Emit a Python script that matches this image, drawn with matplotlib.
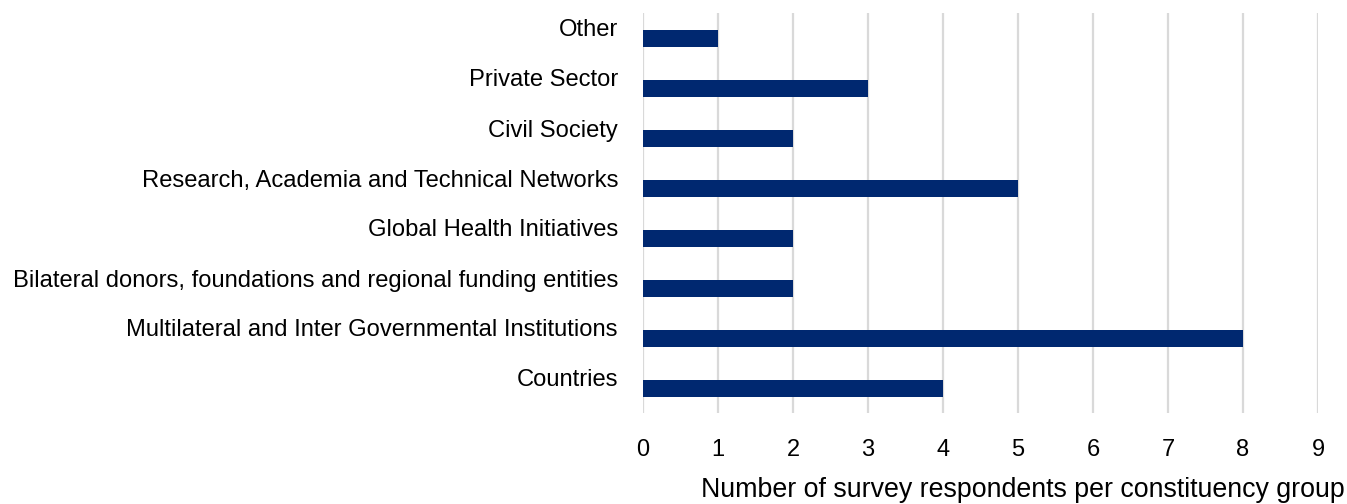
import matplotlib
matplotlib.use('Agg')
import matplotlib.pyplot as plt
import matplotlib.transforms as mtransforms

plt.rcParams['font.family'] = ['Liberation Sans', 'DejaVu Sans']

groups = ['Countries',
          'Multilateral and Inter Governmental Institutions',
          'Bilateral donors, foundations and regional funding entities',
          'Global Health Initiatives',
          'Research, Academia and Technical Networks',
          'Civil Society',
          'Private Sector',
          'Other']
respondents = [4, 8, 2, 2, 5, 2, 3, 1]
xticks = list(range(0, 10))

fig = plt.figure(figsize=(13.47, 5.04), dpi=100)
ax = fig.add_axes([643/1347, 1 - 413/504, 675/1347, 400/504])

pos = list(range(len(groups)))
ax.barh(pos, respondents, height=0.34, color='#002870', zorder=3)

ax.set_xlim(0, 9)
ax.set_ylim(-0.5, len(groups) - 0.5)
ax.set_xticks(xticks)
ax.set_yticks(pos)
ax.set_yticklabels(groups, fontsize=17.1)
ax.tick_params(axis='x', labelsize=17, length=0, pad=18.5)
ax.tick_params(axis='y', length=0, pad=18)

# category labels sit a little above their bars
shift = mtransforms.ScaledTranslation(0, 10/100, fig.dpi_scale_trans)
for lbl in ax.get_yticklabels():
    lbl.set_transform(lbl.get_transform() + shift)

ax.grid(axis='x', color='#d9d9d9', linewidth=1.6, zorder=0)
for s in ax.spines.values():
    s.set_visible(False)

ax.set_xlabel('Number of survey respondents per constituency group', fontsize=19.3, ha='right')
ax.xaxis.set_label_coords((1345 - 643) / 675, -(490 - 413) / 400)
ax.xaxis.label.set_va('center')

fig.savefig('out.png', dpi=100)
